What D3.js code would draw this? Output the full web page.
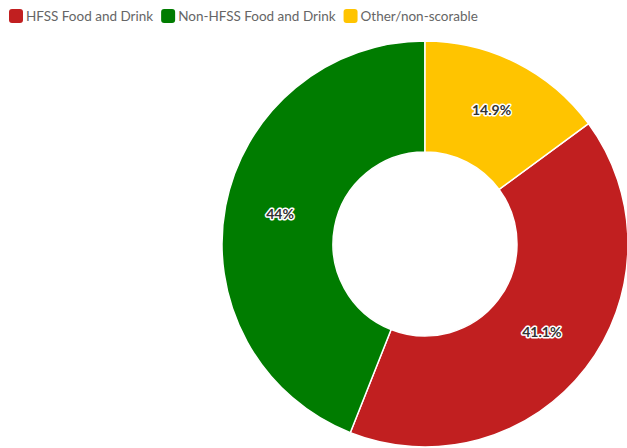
<!DOCTYPE html>
<html>
<head>
<meta charset="utf-8">
<script src="https://cdn.jsdelivr.net/npm/d3@7"></script>
<style>
  html, body { margin: 0; padding: 0; background: #fff; }
  svg { display: block; }
</style>
</head>
<body>
<svg id="chart" width="627" height="448"></svg>
<script>
// Share of items by nutrient-profile classification
const categories = ["HFSS Food and Drink", "Non-HFSS Food and Drink", "Other/non-scorable"];
const shares = [41.1, 44, 14.9];
const colors = ["#c11f20", "#007c00", "#ffc400"];
// Drawing order around the ring, clockwise from 12 o'clock
const sliceOrder = ["Other/non-scorable", "HFSS Food and Drink", "Non-HFSS Food and Drink"];

const W = 627, H = 448;
const cx = 425, cy = 244, outerR = 203, innerR = 92;

const svg = d3.select("#chart");
const color = d3.scaleOrdinal().domain(categories).range(colors);

const data = categories.map((c, i) => ({ name: c, value: shares[i] }));
const pie = d3.pie()
  .value(d => d.value)
  .sort((a, b) => sliceOrder.indexOf(a.name) - sliceOrder.indexOf(b.name));
const arc = d3.arc().innerRadius(innerR).outerRadius(outerR);

const g = svg.append("g").attr("transform", `translate(${cx},${cy})`);
const arcs = pie(data);

g.selectAll("path")
  .data(arcs)
  .join("path")
  .attr("d", arc)
  .attr("fill", d => color(d.data.name))
  .attr("stroke", "#fff")
  .attr("stroke-width", 1.5)
  .attr("stroke-linejoin", "round");

// Percentage labels with a white halo
const fmt = v => `${v}%`;
g.selectAll("text.val")
  .data(arcs)
  .join("text")
  .attr("class", "val")
  .attr("transform", d => { const [x, y] = arc.centroid(d); return `translate(${x},${y - 3})`; })
  .attr("text-anchor", "middle")
  .attr("dominant-baseline", "central")
  .attr("font-family", "Lato, 'Open Sans', sans-serif")
  .attr("font-weight", 700)
  .attr("font-size", 14)
  .attr("fill", "#333")
  .attr("stroke", "#fff")
  .attr("stroke-width", 3)
  .attr("stroke-linejoin", "round")
  .attr("paint-order", "stroke")
  .text(d => fmt(d.data.value));

// Legend across the top
const legend = svg.append("g").attr("transform", "translate(9,9)");
let lx = 0;
categories.forEach(c => {
  const item = legend.append("g").attr("transform", `translate(${lx},0)`);
  item.append("rect")
    .attr("width", 14).attr("height", 14)
    .attr("rx", 3)
    .attr("fill", color(c));
  const t = item.append("text")
    .attr("x", 17).attr("y", 7)
    .attr("dominant-baseline", "central")
    .attr("font-family", "Lato, 'Open Sans', sans-serif")
    .attr("font-size", 13.5)
    .attr("fill", "#666")
    .text(c);
  lx += 17 + t.node().getComputedTextLength() + 8;
});
</script>
</body>
</html>
